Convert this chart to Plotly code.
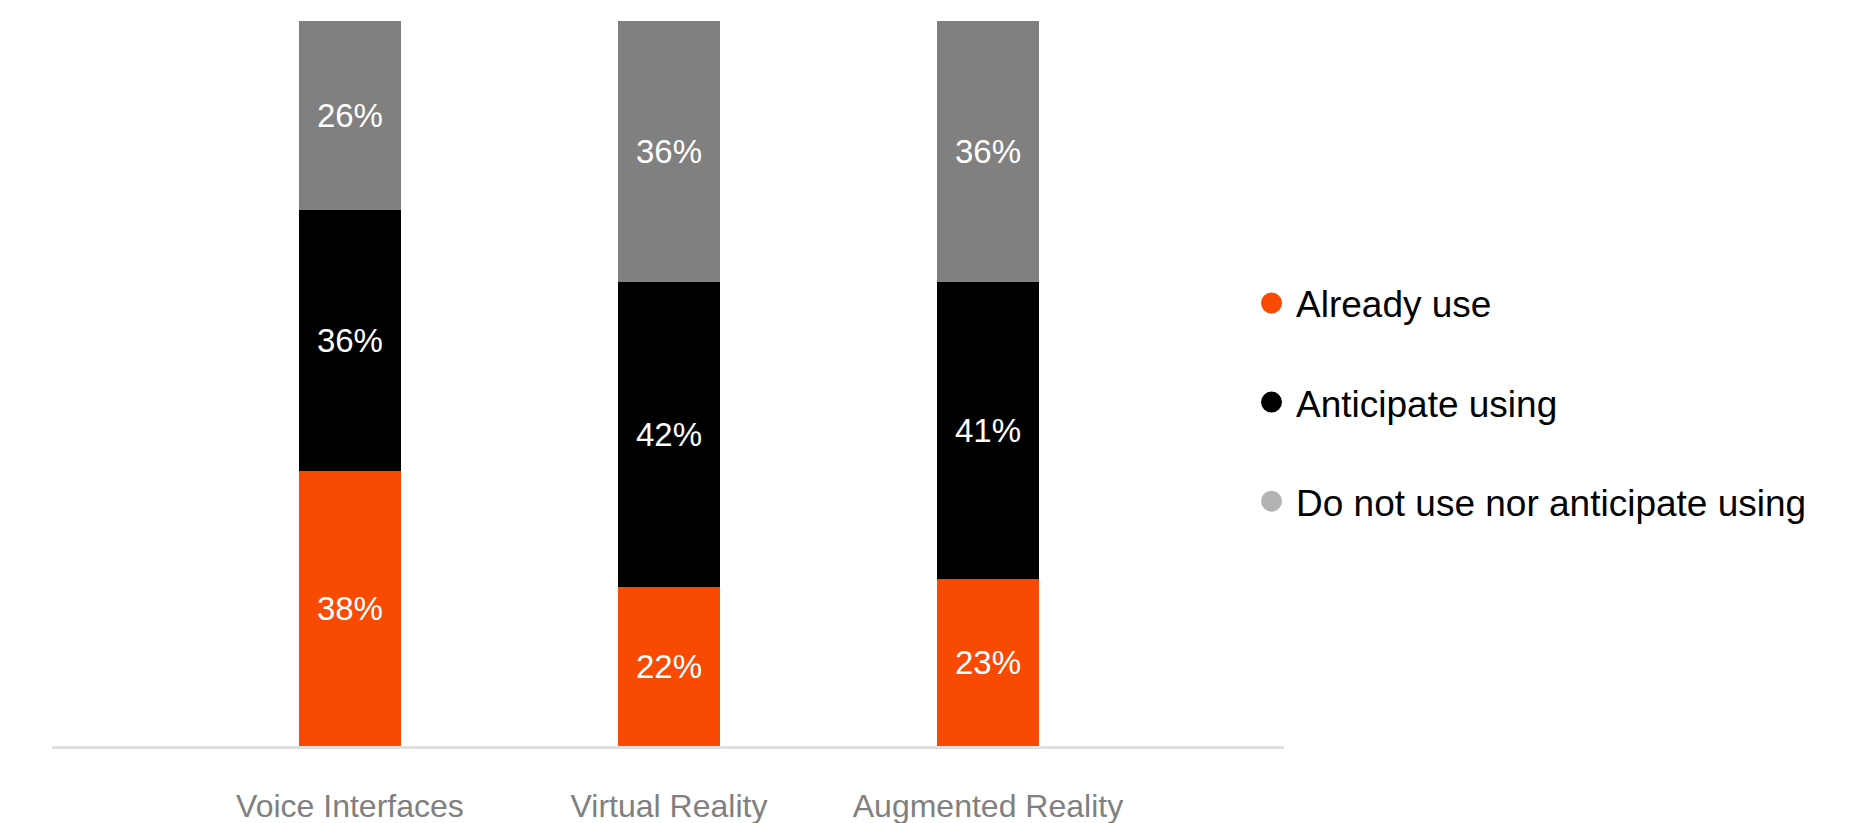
import plotly.graph_objects as go

categories = ["Voice Interfaces", "Virtual Reality", "Augmented Reality"]
already_use = [38, 22, 23]
anticipate_using = [36, 42, 41]
do_not_use = [26, 36, 36]

series_names = ["Already use", "Anticipate using", "Do not use nor anticipate using"]
bar_colors = ["#F84A03", "#000000", "#808080"]
legend_colors = ["#F84A03", "#000000", "#B3B3B3"]
series_values = [already_use, anticipate_using, do_not_use]

FONT = "Liberation Sans, Arial, Helvetica, sans-serif"

fig = go.Figure()
for name, vals, col in zip(series_names, series_values, bar_colors):
    fig.add_trace(go.Bar(
        x=categories, y=vals, name=name,
        marker=dict(color=col, line=dict(width=0)),
        width=0.317,
        text=[f"{v}%" for v in vals],
        textposition="inside",
        insidetextanchor="middle",
        textangle=0,
        constraintext="none",
        textfont=dict(color="white", size=33, family=FONT),
        showlegend=False,
        hoverinfo="skip",
    ))

for i, (name, col) in enumerate(zip(series_names, legend_colors)):
    fig.add_trace(go.Scatter(
        x=[None], y=[None], mode="markers", name=name,
        marker=dict(color=col, size=16, symbol="circle",
                    line=dict(color=col, width=5)),
        legendgroup=f"g{i}", showlegend=True, hoverinfo="skip",
    ))

fig.update_layout(
    width=1864, height=823,
    barmode="stack",
    paper_bgcolor="white", plot_bgcolor="white",
    margin=dict(l=52, r=580, t=21, b=77, autoexpand=False),
    font=dict(family=FONT),
    hovermode=False,
    legend=dict(
        xref="container", yref="container",
        x=0.669, y=0.511, xanchor="left", yanchor="middle",
        font=dict(size=37, color="black", family=FONT),
        tracegroupgap=48,
        itemwidth=39,
        bgcolor="rgba(0,0,0,0)",
    ),
    xaxis=dict(
        range=[-0.934, 2.928],
        automargin=False,
        showgrid=False, zeroline=False,
        showline=True, linecolor="#E0E0E0", linewidth=3,
        layer="below traces",
        ticks="", ticklabelstandoff=30,
        tickfont=dict(size=32, color="#808080", family=FONT),
        fixedrange=True,
    ),
    yaxis=dict(
        range=[0, 100], visible=False, showgrid=False, zeroline=False,
        automargin=False, fixedrange=True,
    ),
)

fig.write_html("out.html")
